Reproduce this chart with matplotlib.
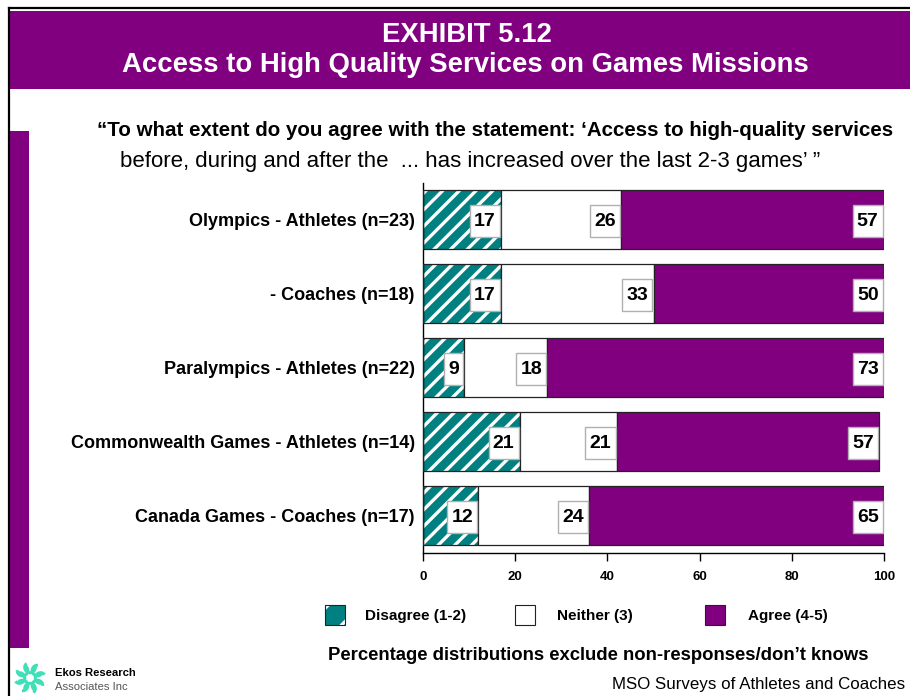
import matplotlib
matplotlib.use("Agg")
import matplotlib.pyplot as plt
from matplotlib import font_manager as fm
from matplotlib.patches import Rectangle, Arc
from matplotlib.lines import Line2D
from matplotlib.path import Path
import numpy as np

# ---- data ----
categories = [
    "Olympics - Athletes (n=23)",
    "- Coaches (n=18)",
    "Paralympics - Athletes (n=22)",
    "Commonwealth Games - Athletes (n=14)",
    "Canada Games - Coaches (n=17)",
]
disagree = [17, 17, 9, 21, 12]
neither = [26, 33, 18, 21, 24]
agree = [57, 50, 73, 57, 65]
series_names = ["Disagree (1-2)", "Neither (3)", "Agree (4-5)"]
x_ticks = [0, 20, 40, 60, 80, 100]

title_lines = ["EXHIBIT 5.12", "Access to High Quality Services on Games Missions"]
question_1 = "\u201cTo what extent do you agree with the statement: \u2018Access to high-quality services"
question_2 = "before, during and after the  ... has increased over the last 2-3 games\u2019 \u201d"
footnote = "Percentage distributions exclude non-responses/don\u2019t knows"
source = "MSO Surveys of Athletes and Coaches"

PURPLE = "#800080"
TEAL = "#008080"
LOGO = "#3fe0b8"


def pick(*names):
    avail = {f.name for f in fm.fontManager.ttflist}
    for nm in names:
        if nm in avail:
            return nm
    return "DejaVu Sans"


SANS = pick("Liberation Sans", "Arial", "DejaVu Sans")
plt.rcParams["font.family"] = [SANS, "DejaVu Sans"]
plt.rcParams["hatch.linewidth"] = 2.4

W, H = 910, 696
fig = plt.figure(figsize=(W / 100, H / 100), dpi=100)
fig.patch.set_facecolor("white")


def fx(x):
    return x / W


def fy(y):
    return 1 - y / H


# ---- page frame ----
fig.add_artist(Line2D([fx(9), fx(910)], [fy(8), fy(8)], color="black", lw=1.6,
                      transform=fig.transFigure))
fig.add_artist(Line2D([fx(9), fx(9)], [fy(8), fy(696)], color="black", lw=1.6,
                      transform=fig.transFigure))
fig.add_artist(Rectangle((fx(10), fy(89)), fx(910) - fx(10), (89 - 11) / H,
                         transform=fig.transFigure, facecolor=PURPLE, edgecolor="none"))
fig.add_artist(Rectangle((fx(10), fy(648)), fx(29) - fx(10), (648 - 131) / H,
                         transform=fig.transFigure, facecolor=PURPLE, edgecolor="none"))

fig.text(fx(467), fy(35), title_lines[0], color="white", fontsize=19.8, fontweight="bold",
         ha="center", va="center")
fig.text(fx(465), fy(65), title_lines[1], color="white", fontsize=19.8, fontweight="bold",
         ha="center", va="center")

fig.text(fx(97), fy(131), question_1, fontsize=14.8, fontweight="bold",
         ha="left", va="center")
fig.text(fx(120), fy(161), question_2, fontsize=16,
         ha="left", va="center")

# ---- stacked bars ----
ax = fig.add_axes([fx(423), fy(553), (884 - 423) / W, (553 - 183) / H])
y = np.arange(len(categories))
d = np.array(disagree, float)
n = np.array(neither, float)
a = np.array(agree, float)
bh = 0.8

ax.barh(y, d, height=bh, color=TEAL, edgecolor="white", hatch="//", linewidth=0, zorder=2)
ax.barh(y, d, height=bh, fill=False, edgecolor="#222222", linewidth=0.9, zorder=3)
ax.barh(y, n, left=d, height=bh, color="white", edgecolor="#222222", linewidth=0.9, zorder=3)
ax.barh(y, a, left=d + n, height=bh, color=PURPLE, edgecolor="#222222", linewidth=0.9, zorder=3)


def tall_box(x0, y0, width, height, mutation_size):
    # label box: narrow side padding, taller top/bottom padding
    px = 0.22 * mutation_size
    py = 0.40 * mutation_size
    x0, x1 = x0 - px, x0 + width + px
    y0, y1 = y0 - py, y0 + height + py
    return Path([(x0, y0), (x1, y0), (x1, y1), (x0, y1), (x0, y0)], closed=True)


box = dict(boxstyle=tall_box, facecolor="white", edgecolor="#b0b0b0", linewidth=1)
LABEL_FS = 14
for i in range(len(categories)):
    ends = [d[i], d[i] + n[i], d[i] + n[i] + a[i]]
    vals = [disagree[i], neither[i], agree[i]]
    for e, v in zip(ends, vals):
        ax.annotate(str(v), xy=(min(e, 100), y[i]), xytext=(-0.22 * LABEL_FS - 0.8, -1.2),
                    textcoords="offset points", ha="right", va="center",
                    fontsize=LABEL_FS, fontweight="bold", bbox=box, zorder=5)

ax.set_xlim(0, 100)
ax.set_ylim(4.507, -0.493)
ax.set_yticks(y)
ax.set_yticklabels(categories, fontsize=13, fontweight="bold")
ax.tick_params(axis="y", length=0, pad=6)
ax.set_xticks(x_ticks)
ax.set_xticklabels([str(t) for t in x_ticks], fontsize=9.5, fontweight="bold")
ax.tick_params(axis="x", length=6, width=1, direction="out", pad=7)
for s in ("top", "right"):
    ax.spines[s].set_visible(False)
for s in ("left", "bottom"):
    ax.spines[s].set_linewidth(1)
    ax.spines[s].set_color("black")

# ---- legend ----
def legend_square(x0, **kw):
    fig.add_artist(Rectangle((fx(x0), fy(625)), 20 / W, 20 / H, transform=fig.transFigure, **kw))


legend_square(325, facecolor=TEAL, edgecolor="white", hatch="/", linewidth=0)
legend_square(325, fill=False, edgecolor="#222222", linewidth=0.8)
legend_square(515, facecolor="white", edgecolor="#222222", linewidth=0.8)
legend_square(705, facecolor=PURPLE, edgecolor="#222222", linewidth=0.8)
for xl, lab in zip([365, 557, 748], series_names):
    fig.text(fx(xl), fy(616), lab, fontsize=11, fontweight="bold", ha="left", va="center")

fig.text(fx(328), fy(656), footnote, fontsize=13.3, fontweight="bold", ha="left", va="center")
fig.text(fx(612), fy(685), source, fontsize=12.2, ha="left", va="center")

# ---- logo ----
lax = fig.add_axes([fx(13), fy(695), 34 / W, 34 / H])
lax.set_xlim(-1, 1)
lax.set_ylim(-1, 1)
lax.set_aspect("equal")
lax.axis("off")
for k in range(8):
    ang = 2 * np.pi * k / 8
    cx, cy = 0.62 * np.cos(ang), 0.62 * np.sin(ang)
    lax.add_patch(Arc((cx, cy), 0.62, 0.62, angle=np.degrees(ang) + 40, theta1=0, theta2=260,
                      color=LOGO, lw=2.2))
fig.text(fx(55), fy(673), "Ekos Research", fontsize=8.1, fontweight="bold", ha="left", va="center")
fig.text(fx(55), fy(687), "Associates Inc", fontsize=8.1, color="#555555", ha="left", va="center")

fig.savefig("out.png", dpi=100)
